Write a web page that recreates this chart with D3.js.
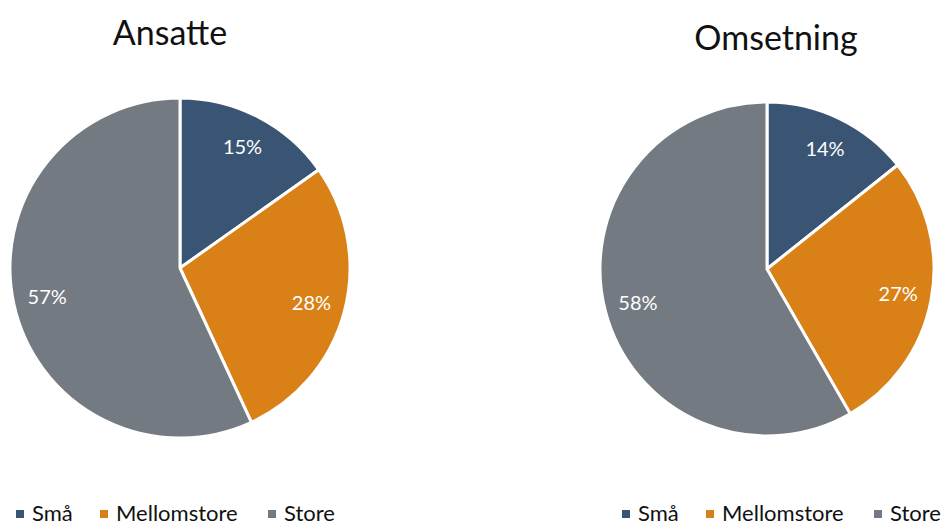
<!DOCTYPE html>
<html>
<head>
<meta charset="utf-8"/>
<script src="https://d3js.org/d3.v7.min.js"></script>
<style>
  body { margin: 0; background: #fff; }
  svg { font-family: "Lato", "Open Sans", sans-serif; }
</style>
</head>
<body>
<div id="chart"></div>
<script>
// categories and values
var categories = ["Små", "Mellomstore", "Store"];
var ansatte = [15.2, 27.9, 56.9];
var omsetning = [14.3, 27.4, 58.3];
var colors = ["#3a5573", "#d98016", "#737a82"];

var width = 944, height = 527;

var svg = d3.select("#chart").append("svg")
    .attr("width", width)
    .attr("height", height);

var color = d3.scaleOrdinal().domain(categories).range(colors);

function drawPie(title, values, cx, cy, r, titleX, titleY, legendX){
    var rows = categories.map(function(c, i){ return {cat: c, value: values[i]}; });
    var pie = d3.pie().sort(null).value(function(d){ return d.value; });
    var arc = d3.arc().innerRadius(0).outerRadius(r);
    var labelArc = d3.arc().innerRadius(r * 0.8).outerRadius(r * 0.8);

    var g = svg.append("g").attr("transform", "translate(" + cx + "," + cy + ")");
    var slices = g.selectAll(".slice")
        .data(pie(rows))
        .enter().append("g").attr("class", "slice");

    slices.append("path")
        .attr("d", arc)
        .style("fill", function(d){ return color(d.data.cat); })
        .style("stroke", "#fff")
        .style("stroke-width", 3)
        .style("stroke-linejoin", "round");

    slices.append("text")
        .attr("transform", function(d){ return "translate(" + labelArc.centroid(d) + ")"; })
        .attr("text-anchor", "middle")
        .attr("dy", "0.35em")
        .style("fill", "#fff")
        .style("font-size", "20px")
        .text(function(d){ return Math.round(d.data.value) + "%"; });

    svg.append("text")
        .attr("x", titleX)
        .attr("y", titleY)
        .attr("text-anchor", "middle")
        .style("font-size", "34px")
        .style("fill", "#111")
        .text(title);

    // legend
    var lg = svg.append("g").attr("transform", "translate(" + legendX + ",521)");
    var offsets = [0, 84, 252];
    var items = lg.selectAll(".item")
        .data(categories)
        .enter().append("g")
        .attr("transform", function(d, i){ return "translate(" + offsets[i] + ",0)"; });
    items.append("rect")
        .attr("x", 0).attr("y", -11)
        .attr("width", 8).attr("height", 8)
        .style("fill", function(d){ return color(d); });
    items.append("text")
        .attr("x", 16)
        .style("font-size", "22px")
        .style("fill", "#111")
        .text(function(d){ return d; });
}

drawPie("Ansatte", ansatte, 180, 268, 170, 170, 45, 16);
drawPie("Omsetning", omsetning, 767, 269, 167, 776, 50, 622);
</script>
</body>
</html>
